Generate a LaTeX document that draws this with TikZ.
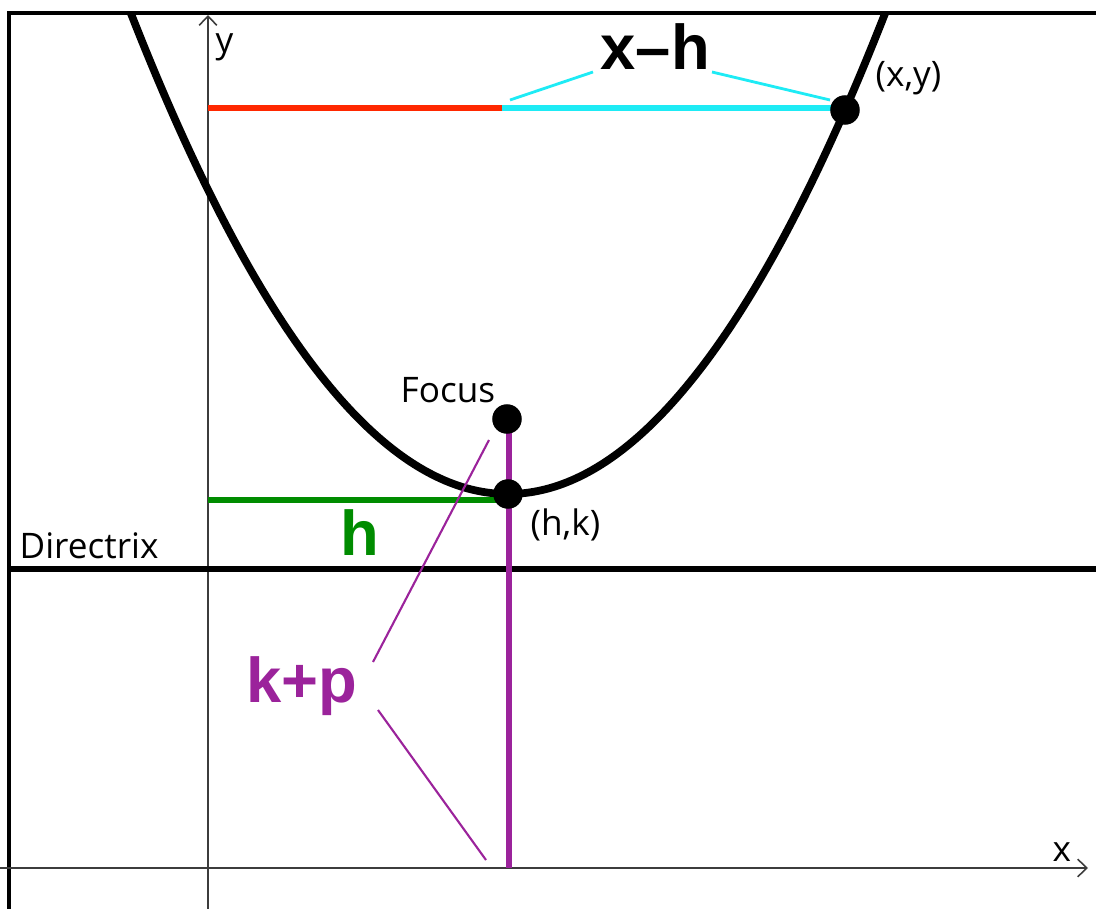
\documentclass[tikz,border=0pt]{standalone}
\usepackage{fontspec}
\setmainfont{Open Sans}
\newfontfamily\bigsans{Liberation Sans}
\usetikzlibrary{arrows.meta}
\definecolor{myred}{RGB}{255,40,0}
\definecolor{mycyan}{RGB}{30,235,245}
\definecolor{mygreen}{RGB}{0,140,0}
\definecolor{mypurple}{RGB}{155,35,155}
\definecolor{axisgray}{RGB}{60,60,60}
\tikzset{
  axisline/.style={draw=axisgray, line width=0.45pt, -{Straight Barb[length=2.6pt,width=5pt]}},
  lab/.style={inner sep=0pt, anchor=base west, font=\fontsize{10}{12}\selectfont},
  biglab/.style={inner sep=0pt, anchor=base west, font=\bigsans\bfseries\fontsize{18}{20}\selectfont},
  dot/.style={circle, fill=black, inner sep=0pt, minimum size=8.4pt},
  leader/.style={line width=0.6pt},
}
\begin{document}
\begin{tikzpicture}[x=0.01cm,y=-0.01cm]
\useasboundingbox (0,0) rectangle (1096,909);
% frame
\coordinate (fA) at (9,909);
\coordinate (fB) at (9,13);
\coordinate (fC) at (1096,13);
\draw[line width=0.9pt] (fA) -- (fB) -- (fC);
% axes
\coordinate (yb) at (208,909);
\coordinate (yt) at (208,15);
\coordinate (xl) at (0,868);
\coordinate (xr) at (1088,868);
\draw[axisline] (yb) -- (yt);
\draw[axisline] (xl) -- (xr);
\node[lab] (ylab) at (215,52) {y};
\node[lab] (xlab) at (1052,861) {x};
% directrix
\coordinate (dl) at (10,569);
\coordinate (dr) at (1096,569);
\draw[line width=1.75pt] (dl) -- (dr);
\node[lab] (dirlab) at (19,558) {Directrix};
% parabola
\begin{scope}
\clip (10,14) rectangle (1096,909);
\draw[line width=2.2pt] plot[domain=-3.9:3.9, samples=120, smooth] ({508+100*\x},{494-33.8*\x*\x});
\end{scope}
% red and cyan
\coordinate (r0) at (208,108);
\coordinate (r1) at (502,108);
\coordinate (c1) at (845,108);
\draw[myred, line width=1.6pt] (r0) -- (r1);
\draw[mycyan, line width=1.6pt] (r1) -- (c1);
\node[biglab] (xh) at (600,70) {x–h};
\coordinate (cl0) at (510,100);
\coordinate (cl1) at (593,72);
\coordinate (cr0) at (712,72);
\coordinate (cr1) at (830,100);
\draw[mycyan, leader, line width=0.8pt] (cl0) -- (cl1);
\draw[mycyan, leader, line width=0.8pt] (cr0) -- (cr1);
% green
\coordinate (g0) at (208,500);
\coordinate (g1) at (505,500);
\draw[mygreen, line width=1.45pt] (g0) -- (g1);
\node[biglab, text=mygreen] (hlab) at (340,555) {h};
% purple
\coordinate (pb) at (509,868);
\coordinate (pf) at (509,420);
\draw[mypurple, line width=1.65pt] (pf) -- (pb);
\node[biglab, text=mypurple] (kp) at (246,702) {k+p};
\coordinate (pl0) at (373,662);
\coordinate (pl1) at (489,440);
\coordinate (pl2) at (378,710);
\coordinate (pl3) at (486,860);
\draw[mypurple, leader] (pl0) -- (pl1);
\draw[mypurple, leader] (pl2) -- (pl3);
% dots
\node[dot] (focus) at (507,419) {};
\node[dot] (vertex) at (508,494) {};
\node[dot] (pt) at (845,110) {};
\node[lab] (foclab) at (400,402) {Focus};
\node[lab] (hklab) at (530,535) {(h,k)};
\node[lab] (xylab) at (875,87) {(x,y)};
\end{tikzpicture}
\end{document}
